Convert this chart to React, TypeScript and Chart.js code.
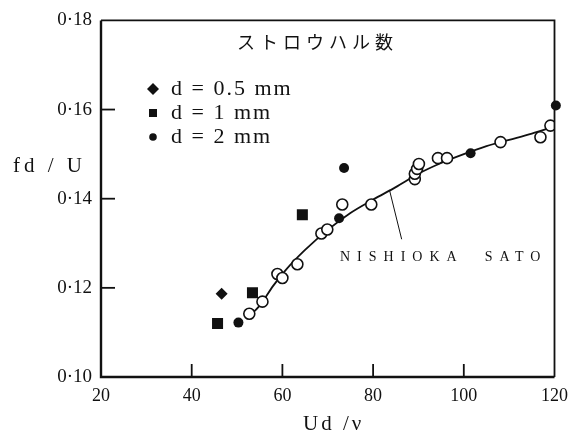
import React, { useEffect, useRef } from "react";
import { Chart, registerables } from "chart.js";

Chart.register(...registerables);

const xTicks = [20, 40, 60, 80, 100, 120];
const yTicks = [0.1, 0.12, 0.14, 0.16, 0.18];

const titleText = "ストロウハル数";
const legendLabels = ["d = 0.5 mm", "d = 1 mm", "d = 2 mm"];
const curveLabel = "NISHIOKA  SATO";

const diamondX = [46.6];
const diamondY = [0.1187];

const squareX = [45.7, 53.4, 64.4];
const squareY = [0.112, 0.1189, 0.1364];

const filledX = [50.3, 72.5, 73.6, 101.5, 120.3];
const filledY = [0.1122, 0.1356, 0.1469, 0.1502, 0.1609];

const openX = [52.7, 55.6, 58.9, 60.0, 63.3, 68.6, 69.9, 73.2, 79.6, 89.2, 89.2, 89.7, 90.1, 94.3, 96.3, 108.1, 116.9, 119.1];
const openY = [0.1142, 0.1169, 0.1231, 0.1222, 0.1253, 0.1322, 0.1331, 0.1387, 0.1387, 0.1444, 0.1456, 0.1467, 0.1478, 0.1491, 0.1491, 0.1527, 0.1538, 0.1564];

const curveX = [52.3, 55, 58, 61, 65, 70, 75, 80, 85, 90, 95, 100, 105, 110, 115, 120];
const curveY = [0.1133, 0.116, 0.1205, 0.1243, 0.1285, 0.133, 0.1368, 0.1398, 0.1426, 0.1456, 0.148, 0.15, 0.1518, 0.1532, 0.1546, 0.1562];

const leaderX = [83.6, 86.3];
const leaderY = [0.142, 0.1309];

const pts = (xs: number[], ys: number[]) => xs.map((x, i) => ({ x, y: ys[i] }));

const fmtY = (v: number) => v.toFixed(2).replace(".", "·");

const overlay = {
  id: "overlay",
  afterDatasetsDraw(chart: any) {
    const { ctx, chartArea: a, scales } = chart;
    const xs = scales.x;
    const ys = scales.y;
    ctx.save();
    ctx.strokeStyle = "#111";
    ctx.fillStyle = "#111";
    // frame
    ctx.lineWidth = 2.4;
    ctx.beginPath();
    ctx.moveTo(a.left, a.top);
    ctx.lineTo(a.left, a.bottom);
    ctx.lineTo(a.right, a.bottom);
    ctx.stroke();
    ctx.lineWidth = 1.8;
    ctx.beginPath();
    ctx.moveTo(a.left, a.top);
    ctx.lineTo(a.right, a.top);
    ctx.lineTo(a.right, a.bottom);
    ctx.stroke();
    // inward ticks
    ctx.lineWidth = 1.8;
    yTicks.slice(1, -1).forEach((v) => {
      const py = ys.getPixelForValue(v);
      ctx.beginPath();
      ctx.moveTo(a.left, py);
      ctx.lineTo(a.left + 14, py);
      ctx.stroke();
    });
    xTicks.slice(1, -1).forEach((v) => {
      const px = xs.getPixelForValue(v);
      ctx.beginPath();
      ctx.moveTo(px, a.bottom);
      ctx.lineTo(px, a.bottom - 13);
      ctx.stroke();
    });
    // leader line
    ctx.lineWidth = 1;
    ctx.beginPath();
    ctx.moveTo(xs.getPixelForValue(leaderX[0]), ys.getPixelForValue(leaderY[0]));
    ctx.lineTo(xs.getPixelForValue(leaderX[1]), ys.getPixelForValue(leaderY[1]));
    ctx.stroke();

    // title
    ctx.textBaseline = "middle";
    ctx.textAlign = "left";
    ctx.font = '18px "Noto Sans CJK JP"';
    (ctx as any).letterSpacing = "5px";
    ctx.fillText(titleText, 237, 42);

    // legend
    ctx.font = '22px "Liberation Serif"';
    (ctx as any).letterSpacing = "2px";
    const rows = [89, 113, 137];
    legendLabels.forEach((t, i) => {
      ctx.fillText(t, 171, rows[i]);
    });
    // legend markers
    const mx = 153;
    ctx.beginPath();
    ctx.moveTo(mx, rows[0] - 6);
    ctx.lineTo(mx + 6, rows[0]);
    ctx.lineTo(mx, rows[0] + 6);
    ctx.lineTo(mx - 6, rows[0]);
    ctx.closePath();
    ctx.fill();
    ctx.fillRect(mx - 4, rows[1] - 4, 8, 8);
    ctx.beginPath();
    ctx.arc(mx, rows[2], 3.8, 0, Math.PI * 2);
    ctx.fill();

    // curve label
    ctx.font = '14px "Liberation Serif"';
    (ctx as any).letterSpacing = "7px";
    ctx.fillText(curveLabel, 340, 257);

    // axis titles
    ctx.font = '21px "Liberation Serif"';
    (ctx as any).letterSpacing = "4px";
    ctx.fillText("fd / U", 13, 166);
    (ctx as any).letterSpacing = "3px";
    ctx.fillText("Ud /ν", 303, 424);
    (ctx as any).letterSpacing = "0px";
    ctx.restore();
  },
};

export default function App() {
  const ref = useRef<HTMLCanvasElement | null>(null);
  useEffect(() => {
    if (!ref.current) return;
    const chart = new Chart(ref.current, {
      type: "scatter",
      data: {
        datasets: [
          {
            type: "line",
            label: "curve",
            data: pts(curveX, curveY),
            borderColor: "#111",
            borderWidth: 1.8,
            pointRadius: 0,
            fill: false,
            cubicInterpolationMode: "monotone",
            order: 10,
          } as any,
          {
            label: "open",
            data: pts(openX, openY),
            pointStyle: "circle",
            pointRadius: 5.5,
            pointBorderWidth: 1.6,
            pointBackgroundColor: "#fff",
            pointBorderColor: "#111",
            order: 2,
          },
          {
            label: "d = 0.5 mm",
            data: pts(diamondX, diamondY),
            pointStyle: "rectRot",
            pointRadius: 6,
            pointBorderWidth: 0,
            pointBackgroundColor: "#111",
            pointBorderColor: "#111",
            order: 1,
          },
          {
            label: "d = 1 mm",
            data: pts(squareX, squareY),
            pointStyle: "rect",
            pointRadius: 7.8,
            pointBorderWidth: 0,
            pointBackgroundColor: "#111",
            pointBorderColor: "#111",
            order: 1,
          },
          {
            label: "d = 2 mm",
            data: pts(filledX, filledY),
            pointStyle: "circle",
            pointRadius: 5,
            pointBorderWidth: 0,
            pointBackgroundColor: "#111",
            pointBorderColor: "#111",
            clip: false,
            order: 1,
          } as any,
        ],
      },
      options: {
        responsive: false,
        animation: false,
        layout: { padding: { top: 17, right: 20, left: 0, bottom: 0 } },
        plugins: { legend: { display: false }, tooltip: { enabled: false } },
        scales: {
          x: {
            type: "linear",
            min: 20,
            max: 120,
            grid: { display: false, drawTicks: false },
            border: { display: false },
            afterBuildTicks: (s: any) => {
              s.ticks = xTicks.map((v) => ({ value: v }));
            },
            afterFit: (s: any) => {
              s.height = 60;
            },
            ticks: {
              color: "#111",
              padding: 8,
              maxRotation: 0,
              font: { family: "Liberation Serif", size: 18 },
            },
          },
          y: {
            type: "linear",
            min: 0.1,
            max: 0.18,
            grid: { display: false, drawTicks: false },
            border: { display: false },
            afterBuildTicks: (s: any) => {
              s.ticks = yTicks.map((v) => ({ value: v }));
            },
            afterFit: (s: any) => {
              s.width = 101;
            },
            ticks: {
              color: "#111",
              padding: 9,
              font: { family: "Liberation Serif", size: 19 },
              callback: (v: any) => fmtY(Number(v)),
            },
          },
        },
      },
      plugins: [overlay],
    });
    return () => chart.destroy();
  }, []);
  return (
    <div style={{ position: "fixed", left: 0, top: 0, width: 576, height: 437, background: "#fff" }}>
      <canvas ref={ref} width={576} height={437} style={{ width: 576, height: 437 }} />
    </div>
  );
}
